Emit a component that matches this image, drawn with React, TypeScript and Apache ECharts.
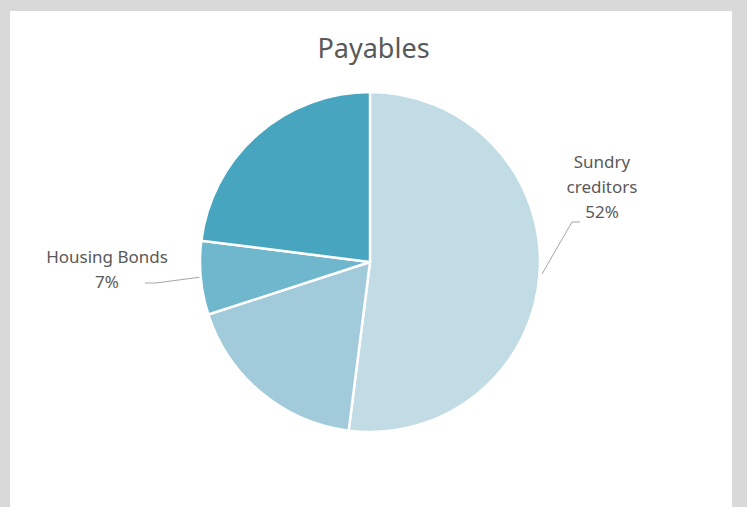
import React, { useEffect, useRef } from "react";
import * as echarts from "echarts";

const categories = ["Sundry creditors", "Other payables", "Housing Bonds", "Accrued expenses"];
const values = [52, 18, 7, 23];
const sliceColors = ["#c1dce4", "#a1cadb", "#6fb7cd", "#47a5bf"];
const labelledIndices = [0, 2];
const labelNames = ["Sundry\ncreditors", "", "Housing Bonds", ""];

export default function App() {
  const ref = useRef<HTMLDivElement>(null);
  useEffect(() => {
    document.body.style.margin = "0";
    const chart = echarts.init(ref.current!, null, { renderer: "svg" });
    const font = "'Noto Sans', 'Open Sans', sans-serif";
    chart.setOption({
      animation: false,
      backgroundColor: "#d9d9d9",
      graphic: [
        {
          type: "rect",
          z: -10,
          shape: { x: 10, y: 11, width: 722, height: 500 },
          style: { fill: "#ffffff" },
        },
      ],
      title: {
        text: "Payables",
        left: "center",
        top: 29,
        textStyle: { fontFamily: font, fontSize: 27, fontWeight: "normal", color: "#595959" },
      },
      series: [
        {
          type: "pie",
          center: [370, 262],
          radius: 170,
          startAngle: 90,
          clockwise: true,
          itemStyle: { borderColor: "#ffffff", borderWidth: 2.5 },
          label: {
            show: true,
            fontFamily: font,
            fontSize: 17,
            lineHeight: 25,
            color: "#595959",
            align: "center",
            formatter: (p: any) => labelNames[p.dataIndex] + "\n" + Math.round(p.percent) + "%",
          },
          labelLine: { show: true, lineStyle: { color: "#a6a6a6", width: 1 } },
          labelLayout: (p: any) => {
            if (p.dataIndex === 0) {
              return {
                x: 602,
                y: 186,
                align: "center",
                verticalAlign: "middle",
                labelLinePoints: [[542, 274], [572, 222], [580, 222]],
              };
            }
            if (p.dataIndex === 2) {
              return {
                x: 107,
                y: 269,
                align: "center",
                verticalAlign: "middle",
                labelLinePoints: [[201, 277], [156, 283], [145, 283]],
              };
            }
            return {};
          },
          data: categories.map((name, i) => ({
            name,
            value: values[i],
            itemStyle: { color: sliceColors[i] },
            label: { show: labelledIndices.includes(i) },
            labelLine: { show: labelledIndices.includes(i) },
          })),
        },
      ],
    });
    return () => chart.dispose();
  }, []);
  return <div ref={ref} style={{ width: 747, height: 507, position: "absolute", left: 0, top: 0 }} />;
}
